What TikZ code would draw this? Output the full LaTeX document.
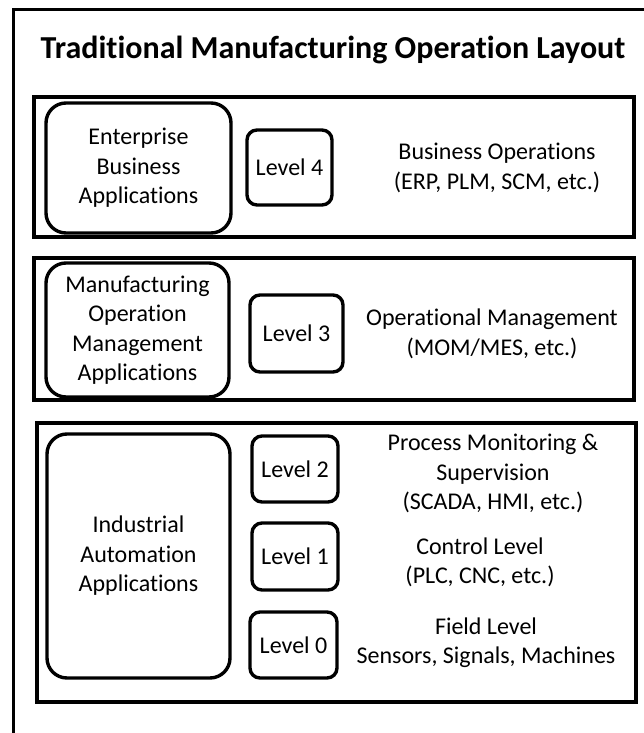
\documentclass[tikz,border=0pt]{standalone}
\usepackage{fontspec}
\setmainfont{Carlito}[RawFeature=-liga]
\begin{document}
\begin{tikzpicture}[x=1pt,y=-1pt,
  frame/.style={draw,line width=3pt},
  band/.style={draw,line width=3.4pt},
  appbox/.style={draw,line width=3.4pt,rounded corners=20pt,align=center,inner sep=0pt},
  lvlbox/.style={draw,line width=3.4pt,rounded corners=10pt,align=center,inner sep=0pt},
  desc/.style={align=center,inner sep=0pt},
  every node/.style={font=\fontsize{24}{29.5}\selectfont}]
\useasboundingbox (0,0) rectangle (644,733);
\clip (0,0) rectangle (644,733);
\draw[frame] (13,740) coordinate (fa) -- (13,10) coordinate (fb) -- (660,10) coordinate (fc);
\node[font=\fontsize{32}{36}\selectfont\bfseries] (title) at (333,50) {Traditional Manufacturing Operation Layout};

% band 1
\node[band,minimum width=600pt,minimum height=140pt,inner sep=0pt] (b1) at (334,167) {};
\node[appbox,minimum width=185pt,minimum height=130pt] (ent) at (138.5,168) {Enterprise\\Business\\Applications};
\node[lvlbox,minimum width=85pt,minimum height=75pt] (l4) at (289.5,167.5) {Level 4};
\node[desc] (d4) at (497,168) {Business Operations\\(ERP, PLM, SCM, etc.)};

% band 2
\node[band,minimum width=600pt,minimum height=142pt,inner sep=0pt] (b2) at (334,329) {};
\node[appbox,minimum width=183pt,minimum height=134pt] (mom) at (137.5,330) {Manufacturing\\Operation\\Management\\Applications};
\node[lvlbox,minimum width=93pt,minimum height=77pt] (l3) at (296.5,333.5) {Level 3};
\node[desc] (d3) at (492,334) {Operational Management\\(MOM/MES, etc.)};

% band 3
\node[band,minimum width=599pt,minimum height=279pt,inner sep=0pt] (b3) at (336.5,562.5) {};
\node[appbox,minimum width=183pt,minimum height=244pt] (ind) at (138.5,556) {Industrial\\Automation\\Applications};
\node[lvlbox,minimum width=86pt,minimum height=66pt] (l2) at (295,469) {Level 2};
\node[lvlbox,minimum width=86pt,minimum height=67pt] (l1) at (295,556.5) {Level 1};
\node[lvlbox,minimum width=87pt,minimum height=66pt] (l0) at (293.5,645) {Level 0};
\node[desc] (d2) at (493,473.5) {Process Monitoring \&\\Supervision\\(SCADA, HMI, etc.)};
\node[desc] (d1) at (480,562.5) {Control Level\\(PLC, CNC, etc.)};
\node[desc] (d0) at (486,642.5) {Field Level\\Sensors, Signals, Machines};
\end{tikzpicture}
\end{document}
